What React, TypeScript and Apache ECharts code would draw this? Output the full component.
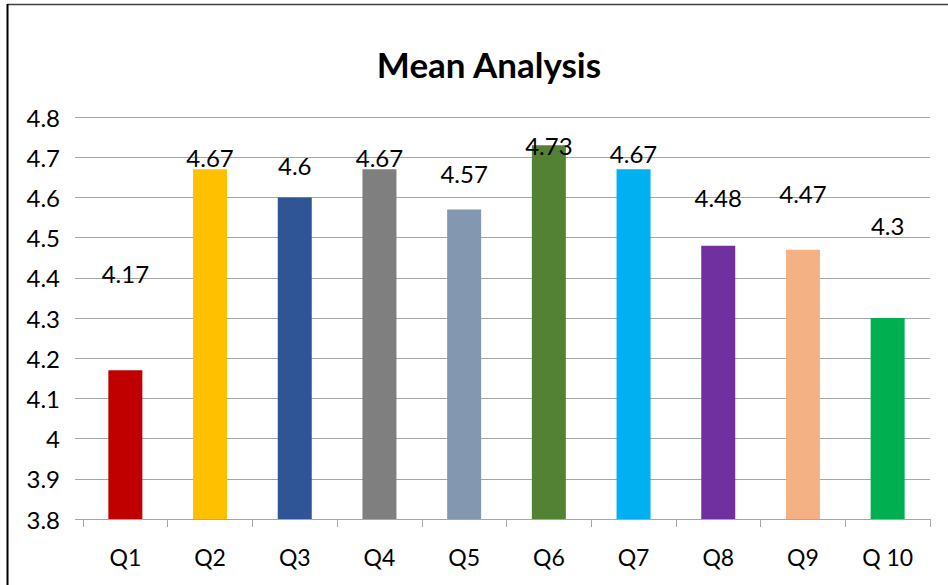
import React, { useEffect, useRef } from "react";
import * as echarts from "echarts";

const categories = ["Q1", "Q2", "Q3", "Q4", "Q5", "Q6", "Q7", "Q8", "Q9", "Q 10"];
const means = [4.17, 4.67, 4.6, 4.67, 4.57, 4.73, 4.67, 4.48, 4.47, 4.3];
// vertical positions (in axis units) where the data labels sit in the reference
const labelLevels = [4.41, 4.7, 4.68, 4.7, 4.66, 4.73, 4.71, 4.6, 4.61, 4.53];
const barColors = [
  "#C00000", "#FFC000", "#2F5597", "#7F7F7F", "#8497B0",
  "#548235", "#00B0F0", "#7030A0", "#F4B183", "#00B050",
];
const yTicks = { min: 3.8, max: 4.8, interval: 0.1 };
const title = "Mean Analysis";

const FONT = "Lato, 'Open Sans', sans-serif";

export default function App() {
  const ref = useRef<HTMLDivElement>(null);
  useEffect(() => {
    if (!ref.current) return;
    const chart = echarts.init(ref.current, null, { renderer: "svg" });
    chart.setOption({
      animation: false,
      backgroundColor: "#ffffff",
      title: {
        text: title,
        left: 484,
        top: 41,
        textAlign: "center",
        textStyle: { fontFamily: FONT, fontSize: 35, fontWeight: "bold", color: "#000" },
      },
      grid: { left: 83, right: 18, top: 117, bottom: 66, containLabel: false },
      graphic: [
        {
          type: "line",
          shape: { x1: 7, y1: 4.5, x2: 948, y2: 4.5 },
          style: { stroke: "#404040", lineWidth: 1.5 },
        },
        {
          type: "line",
          shape: { x1: 7.5, y1: 4, x2: 7.5, y2: 585 },
          style: { stroke: "#000000", lineWidth: 2 },
        },
      ],
      xAxis: {
        type: "category",
        data: categories,
        axisLine: { show: true, lineStyle: { color: "#A6A6A6", width: 1 } },
        axisTick: { show: true, length: 8, alignWithLabel: false, lineStyle: { color: "#A6A6A6" } },
        axisLabel: { margin: 26, fontFamily: FONT, fontSize: 23, color: "#000" },
        splitLine: { show: false },
      },
      yAxis: {
        type: "value",
        min: yTicks.min,
        max: yTicks.max,
        interval: yTicks.interval,
        axisLine: { show: false },
        axisTick: { show: true, length: 8, lineStyle: { color: "#A6A6A6" } },
        axisLabel: {
          margin: 23,
          fontFamily: FONT,
          fontSize: 24,
          color: "#000",
          formatter: (v: number) => String(Math.round(v * 10) / 10),
        },
        splitLine: { show: true, lineStyle: { color: "#A6A6A6", width: 1 } },
      },
      series: [
        {
          type: "bar",
          barWidth: 34,
          data: means.map((v, i) => ({ value: v, itemStyle: { color: barColors[i] } })),
          label: { show: false },
        },
        {
          type: "custom",
          silent: true,
          z: 5,
          data: labelLevels.map((v, i) => [i, v, means[i]]),
          renderItem: (params: any, api: any) => {
            const pt = api.coord([api.value(0), api.value(1)]);
            return {
              type: "text",
              x: pt[0],
              y: pt[1],
              style: {
                text: String(api.value(2)),
                fill: "#000000",
                font: `24px ${FONT}`,
                align: "center",
                verticalAlign: "middle",
              },
            };
          },
        },
      ],
    });
    return () => chart.dispose();
  }, []);
  return (
    <div
      ref={ref}
      style={{ position: "fixed", left: 0, top: 0, width: 948, height: 585, background: "#fff" }}
    />
  );
}
